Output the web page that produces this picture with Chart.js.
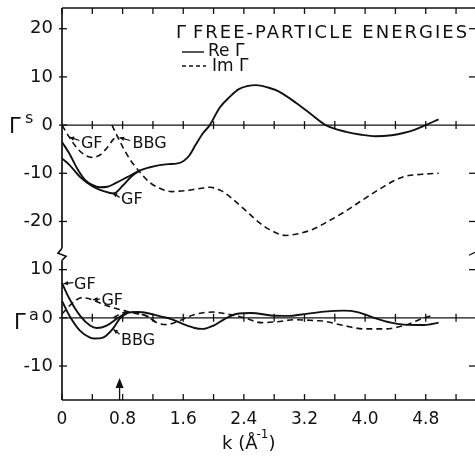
<!DOCTYPE html>
<html><head><meta charset="utf-8">
<script src="https://cdn.jsdelivr.net/npm/chart.js@4.4.0/dist/chart.umd.min.js"></script>
<style>html,body{margin:0;padding:0;background:#fff}#wrap{width:475px;height:456px}</style>
</head><body><div id="wrap"><canvas id="c" width="475" height="456"></canvas></div>
<script>
// ---- data (k in 1/Angstrom) ----
// Upper panel: Gamma^s
const kReS_A = [0,0.1,0.2,0.3,0.4,0.5,0.6,0.7,0.86,1.03,1.15,1.29,1.4,1.51,1.6,1.68,1.76,1.86,1.95,2.08,2.21,2.34,2.56,2.72,2.87,3.09,3.3,3.48,3.75,3.95,4.14,4.35,4.49,4.65,4.8,4.97];
const reS_A  = [-3.5,-6.0,-9.0,-11.3,-12.4,-12.9,-12.8,-12.1,-10.8,-9.4,-8.8,-8.3,-8.1,-8.0,-7.5,-6.3,-4.2,-1.7,0,3.6,5.8,7.5,8.3,7.8,6.9,4.6,2.1,0,-1.4,-2.0,-2.3,-2.1,-1.7,-1.0,0,1.2];
const kReS_B = [0,0.1,0.24,0.41,0.55,0.68,0.8,0.92,1.03];
const reS_B  = [-6.9,-8.3,-10.8,-12.8,-13.7,-14.2,-12.6,-10.6,-9.4];
const kImS_GF = [0,0.1,0.2,0.3,0.39,0.5,0.6,0.68,0.74];
const imS_GF  = [0,-2.6,-4.8,-6.2,-6.7,-6.2,-4.6,-2.9,-2.3];
const kImS_BBG = [0.66,0.72,0.8,0.9,1.03,1.15,1.29,1.45,1.64,1.8,1.95,2.1,2.21,2.4,2.6,2.74,2.95,3.1,3.3,3.53,3.75,3.96,4.2,4.49,4.75,4.97];
const imS_BBG  = [0,-2.0,-4.5,-7.2,-9.8,-11.8,-13.1,-13.8,-13.6,-13.2,-12.9,-13.6,-14.8,-17.4,-20.2,-21.7,-22.9,-22.6,-21.7,-19.8,-17.8,-15.6,-13.2,-10.8,-10.2,-10.0];
// Lower panel: Gamma^a
const kReA_GF = [0,0.1,0.24,0.37,0.46,0.59,0.74,0.86,1.0,1.15,1.3,1.45,1.6,1.75,1.86,2.0,2.15,2.3,2.5,2.76,3.0,3.16,3.46,3.72,3.9,4.12,4.34,4.51,4.78,4.97];
const reA_GF  = [7.2,3.9,0.4,-1.6,-2.1,-1.6,0,1.0,1.2,0.9,0.3,-0.3,-1.3,-2.1,-2.3,-1.6,-0.2,0.8,1.0,0.5,0.4,0.7,1.3,1.5,1.2,0,-1.0,-1.4,-1.5,-1.0];
const kReA_BBG = [0,0.1,0.24,0.37,0.43,0.54,0.67,0.76,0.86];
const reA_BBG  = [3.5,0.4,-2.7,-4.1,-4.3,-4.1,-2.3,-0.2,1.0];
const kImA_GF = [0,0.08,0.17,0.26,0.35,0.5,0.67,0.8,0.94,1.12,1.25,1.38,1.55,1.73,1.99,2.18,2.41,2.63,2.84,3.07,3.37,3.46,3.72,3.99,4.25,4.51,4.78,4.91];
const imA_GF  = [0.8,2.2,3.5,4.2,4.0,3.1,2.1,1.6,1.0,0.4,-1.0,-1.4,-0.6,0.6,1.2,0.8,0,-1.0,-0.8,-0.4,-0.6,-0.7,-1.6,-2.3,-2.3,-1.6,0,0.6];
const kImA_BBG = [0.68,0.78,0.9,1.0,1.12,1.25];
const imA_BBG  = [0,0.9,1.3,1.0,0.3,-1.0];

const yTickValues = [20,10,0,-10,-20,-30,-40,-50];
const xTickLabels = ['0','0.8','1.6','2.4','3.2','4.0','4.8'];
const PANEL_SHIFT = -40;   // lower panel drawn 40 units below upper panel on one axis

function pts(ks, vs, shift){ return ks.map((k,i)=>({x:k, y:vs[i]+(shift||0)})); }
function ds(label, ks, vs, shift, dashed){
  return {label, data: pts(ks,vs,shift), borderColor:'#111', borderWidth: dashed?1.6:1.9,
    borderDash: dashed?[6,4]:[], pointRadius:0, fill:false, cubicInterpolationMode:'monotone'};
}

const FONT = "'DejaVu Sans', sans-serif";

const overlay = {
  id:'overlay',
  afterDraw(chart){
    const c = chart.ctx, a = chart.chartArea;
    const xs = chart.scales.x, ys = chart.scales.y;
    const X = v=>xs.getPixelForValue(v), Y = v=>ys.getPixelForValue(v);
    c.save();
    c.strokeStyle='#111'; c.fillStyle='#111'; c.lineWidth=1.7; c.setLineDash([]);
    const line=(x1,y1,x2,y2)=>{c.beginPath();c.moveTo(x1,y1);c.lineTo(x2,y2);c.stroke();};
    // frame
    line(a.left,a.top,a.right,a.top);
    line(a.left,a.bottom,a.right,a.bottom);
    const yb = Y(-26.8);
    line(a.left,a.top,a.left,yb-6);
    line(a.left,yb+6,a.left,a.bottom);
    c.beginPath(); c.moveTo(a.left,yb-6); c.lineTo(a.left-4,yb-1); c.lineTo(a.left+4,yb+2); c.lineTo(a.left,yb+6); c.stroke();
    // zero lines
    c.lineWidth=1.3;
    line(a.left,Y(0),a.right,Y(0));
    line(a.left,Y(PANEL_SHIFT),a.right,Y(PANEL_SHIFT));
    // x ticks
    for(let i=0;i<=13;i++){
      const px = X(i*0.4);
      line(px,a.top,px,a.top+6);
      line(px,a.bottom,px,a.bottom-6);
      if(i>0){ line(px,Y(0)-4,px,Y(0)+4); line(px,Y(PANEL_SHIFT)-4,px,Y(PANEL_SHIFT)+4); }
    }
    // y ticks
    yTickValues.forEach(v=>{ const py=Y(v); line(a.left-3,py,a.left+5,py); if(v!==0 && v!==-40) line(a.right-6,py,a.right,py); });
    // right-side break mark
    line(a.right-6,yb+1,a.right,yb-2);
    // arrow marker at k_F
    const ax = X(0.76);
    line(ax,a.bottom,ax,a.bottom-14);
    c.beginPath(); c.moveTo(ax,a.bottom-22); c.lineTo(ax-4,a.bottom-12); c.lineTo(ax+4,a.bottom-12); c.closePath(); c.fill();

    // annotations
    const arrow=(x1,y1,x2,y2)=>{
      c.lineWidth=1.2; line(x1,y1,x2,y2);
      const ang=Math.atan2(y2-y1,x2-x1), L=5;
      c.beginPath(); c.moveTo(x2,y2);
      c.lineTo(x2-L*Math.cos(ang-0.45),y2-L*Math.sin(ang-0.45));
      c.lineTo(x2-L*Math.cos(ang+0.45),y2-L*Math.sin(ang+0.45)); c.closePath(); c.fill();
    };
    c.font = "16px "+FONT; c.textBaseline='alphabetic'; c.textAlign='left';
    const note=(txt,tk,tv,fk,fv,hk,hv)=>{ c.fillText(txt,X(tk),Y(tv)); arrow(X(fk),Y(fv),X(hk),Y(hv)); };
    note('GF',0.25,-4.8,0.23,-3.2,0.1,-2.5);
    note('BBG',0.93,-4.8,0.9,-3.2,0.76,-2.6);
    note('GF',0.78,-16.3,0.76,-15.0,0.67,-14.1);
    note('GF',0.16,6.0+PANEL_SHIFT,0.15,7.3+PANEL_SHIFT,0.02,7.1+PANEL_SHIFT);
    note('GF',0.52,2.6+PANEL_SHIFT,0.5,3.9+PANEL_SHIFT,0.41,3.8+PANEL_SHIFT);
    note('BBG',0.78,-5.6+PANEL_SHIFT,0.76,-3.4+PANEL_SHIFT,0.68,-2.4+PANEL_SHIFT);

    // title / legend
    c.font = "18px "+FONT;
    c.fillText('\u0393',176,38);
    c.letterSpacing = '2px';
    c.fillText('FREE-PARTICLE ENERGIES',193,38);
    c.letterSpacing = '0px';
    c.font = "17px "+FONT;
    c.lineWidth=1.4; line(182,52,204,52);
    c.fillText('Re \u0393',208,56);
    c.setLineDash([4,3]); line(182,66,206,66); c.setLineDash([]);
    c.fillText('Im \u0393',212,71);

    // axis titles
    c.font = "21px "+FONT;
    c.fillText('\u0393',9,Y(0)+8);
    c.font = "16px "+FONT; c.fillText('s',25,Y(0)-2);
    c.font = "21px "+FONT;
    c.fillText('\u0393',14,Y(PANEL_SHIFT)+11);
    c.font = "16px "+FONT; c.fillText('a',29,Y(PANEL_SHIFT)+2);
    c.font = "18px "+FONT;
    c.fillText('k (\u00C5',222,449);
    const w = c.measureText('k (\u00C5').width;
    c.font = "12px "+FONT; c.fillText('-1',222+w-1,438);
    c.font = "18px "+FONT; c.fillText(')',222+w+11,449);
    c.restore();
  }
};

new Chart(document.getElementById('c'), {
  type:'line',
  data:{ datasets:[
    ds('Re Γs (GF)', kReS_A, reS_A, 0, false),
    ds('Re Γs (BBG)', kReS_B, reS_B, 0, false),
    ds('Im Γs (GF)', kImS_GF, imS_GF, 0, true),
    ds('Im Γs (BBG)', kImS_BBG, imS_BBG, 0, true),
    ds('Re Γa (GF)', kReA_GF, reA_GF, PANEL_SHIFT, false),
    ds('Re Γa (BBG)', kReA_BBG, reA_BBG, PANEL_SHIFT, false),
    ds('Im Γa (GF)', kImA_GF, imA_GF, PANEL_SHIFT, true),
    ds('Im Γa (BBG)', kImA_BBG, imA_BBG, PANEL_SHIFT, true)
  ]},
  options:{
    responsive:false, animation:false, devicePixelRatio:1,
    layout:{padding:{top:8,right:0,left:0,bottom:0}},
    plugins:{legend:{display:false}, tooltip:{enabled:false}},
    scales:{
      x:{ type:'linear', min:0, max:5.45,
        grid:{display:false, drawTicks:false}, border:{display:false},
        afterBuildTicks(s){ s.ticks = []; for(let i=0;i<=13;i++) s.ticks.push({value: Math.round(i*4)/10}); },
        ticks:{ autoSkip:false, maxRotation:0, padding:9, color:'#111', font:{family:FONT,size:17},
          callback(v,i){ return (i%2===0 && i/2 < xTickLabels.length) ? xTickLabels[i/2] : ''; } },
        afterFit(s){ s.height = 56; s.paddingLeft = 0; s.paddingRight = 0; }
      },
      y:{ type:'linear', min:-57.05, max:24.3,
        grid:{display:false, drawTicks:false}, border:{display:false},
        afterBuildTicks(s){ s.ticks = yTickValues.map(v=>({value:v})); },
        ticks:{ padding:9, color:'#111', font:{family:FONT,size:18},
          callback(v){ return v <= -30 ? String(v - PANEL_SHIFT) : String(v); } },
        afterFit(s){ s.width = 62; s.paddingTop = 0; s.paddingBottom = 0; }
      }
    }
  },
  plugins:[overlay]
});
</script></body></html>
